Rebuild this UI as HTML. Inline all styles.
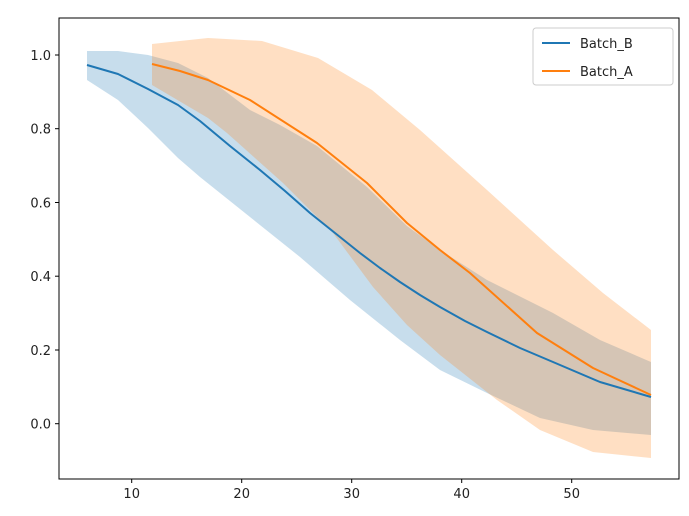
<!DOCTYPE html><html><head><style>body{margin:0;background:#fff}svg{font-family:"DejaVu Sans","Liberation Sans",sans-serif}</style></head><body>
<svg width="689" height="511" viewBox="0 0 689 511">
<rect width="689" height="511" fill="#fff"/>
<polygon fill="#1f77b4" fill-opacity="0.25" points="87,51 118,51 148,55 178,63 208,78 250,110 280,125 317,146 367,187 407,226 440,250 487,280 553,313 600,340 651,362 651,435 593,430 540,418 487,393 440,370 400,340 350,300 300,257 250,217 200,177 178,158 148,128 118,100 87,80"/>
<polygon fill="#ff7f0e" fill-opacity="0.25" points="152,44 208,38 262,41 318,58 372,90 420,130 487,190 553,250 603,293 651,330 651,458 593,452 540,430 497,400 440,355 407,325 373,287 333,233 283,183 227,133 208,118 152,85"/>
<polyline fill="none" stroke="#1f77b4" stroke-width="2" stroke-linejoin="round" points="87,65 118,74 148,89 178,105 200,121 230,146 260,170 285,191 310,213 335,233 360,253 380,268 400,282 420,295 440,307 465,321 487,332 520,348 553,362 600,382 651,397"/>
<polyline fill="none" stroke="#ff7f0e" stroke-width="2" stroke-linejoin="round" points="152,64 180,71 208,80 250,100 317,143 367,183 407,223 440,250 470,273 537,333 593,368 651,395"/>
<rect x="59" y="18" width="620" height="461" fill="none" stroke="#000" stroke-width="1"/>
<g stroke="#000"><line x1="55" x2="59" y1="55" y2="55"/><line x1="55" x2="59" y1="128.7" y2="128.7"/><line x1="55" x2="59" y1="202.5" y2="202.5"/><line x1="55" x2="59" y1="276.2" y2="276.2"/><line x1="55" x2="59" y1="350" y2="350"/><line x1="55" x2="59" y1="423.7" y2="423.7"/>
<line x1="131.7" x2="131.7" y1="479" y2="483"/><line x1="241.7" x2="241.7" y1="479" y2="483"/><line x1="351.7" x2="351.7" y1="479" y2="483"/><line x1="461.7" x2="461.7" y1="479" y2="483"/><line x1="571.7" x2="571.7" y1="479" y2="483"/></g>
<g font-size="13" fill="#222" text-anchor="end"><text x="51" y="60">1.0</text><text x="51" y="133.7">0.8</text><text x="51" y="207.5">0.6</text><text x="51" y="281.2">0.4</text><text x="51" y="355">0.2</text><text x="51" y="428.7">0.0</text></g>
<g font-size="13" fill="#222" text-anchor="middle"><text x="131.7" y="498">10</text><text x="241.7" y="498">20</text><text x="351.7" y="498">30</text><text x="461.7" y="498">40</text><text x="571.7" y="498">50</text></g>
<rect x="533" y="28" width="140" height="57" rx="3" fill="#fff" fill-opacity="0.8" stroke="#ccc"/>
<line x1="542" x2="570" y1="43" y2="43" stroke="#1f77b4" stroke-width="2"/>
<line x1="542" x2="570" y1="71" y2="71" stroke="#ff7f0e" stroke-width="2"/>
<text x="580" y="48" font-size="13" fill="#222">Batch_B</text>
<text x="580" y="76" font-size="13" fill="#222">Batch_A</text>
</svg></body></html>
